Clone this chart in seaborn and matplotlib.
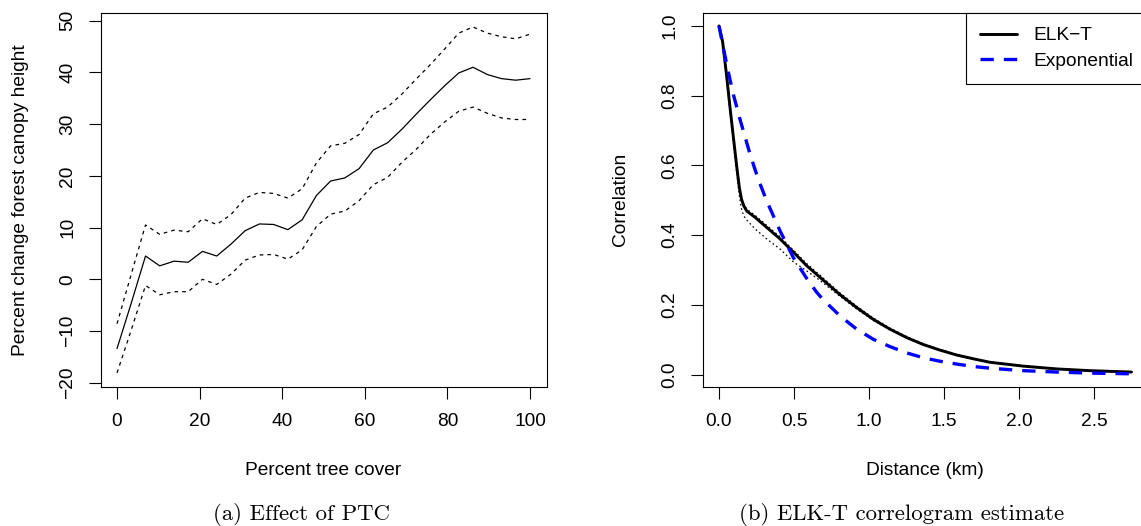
import numpy as np
import pandas as pd
import matplotlib
matplotlib.use("Agg")
import matplotlib.pyplot as plt
import seaborn as sns

# ---------------- data: panel (a) ----------------
ptc = [0, 3.45, 6.9, 10.34, 13.79, 17.24, 20.69, 24.14, 27.59, 31.03,
       34.48, 37.93, 41.38, 44.83, 48.28, 51.72, 55.17, 58.62, 62.07, 65.52,
       68.97, 72.41, 75.86, 79.31, 82.76, 86.21, 89.66, 93.1, 96.55, 100]
effect_mid = [-13.4, -4.6, 4.5, 2.6, 3.5, 3.3, 5.4, 4.5, 6.8, 9.4,
              10.7, 10.6, 9.6, 11.5, 16.2, 19.0, 19.6, 21.4, 25.0, 26.4,
              29.0, 31.9, 34.7, 37.4, 39.9, 41.0, 39.6, 38.8, 38.5, 38.8]
effect_hi = [-8.6, 1.0, 10.5, 8.7, 9.5, 9.2, 11.7, 10.6, 12.5, 15.7,
             16.8, 16.6, 15.7, 17.5, 22.5, 25.8, 26.3, 28.0, 32.0, 33.3,
             35.8, 38.7, 41.5, 44.5, 47.6, 48.8, 47.6, 46.9, 46.5, 47.4]
effect_lo = [-18.1, -9.8, -1.2, -3.0, -2.4, -2.4, 0.0, -1.0, 1.0, 3.7,
             4.7, 4.8, 3.9, 5.7, 10.2, 12.6, 13.2, 15.2, 18.3, 19.7,
             22.6, 25.1, 28.0, 30.4, 32.5, 33.3, 32.1, 31.2, 30.9, 30.9]
a_xticks = [0, 20, 40, 60, 80, 100]
a_xticklabels = ["0", "20", "40", "60", "80", "100"]
a_yticks = [-20, -10, 0, 10, 20, 30, 40, 50]
a_yticklabels = ["\u221220", "\u221210", "0", "10", "20", "30", "40", "50"]

# ---------------- data: panel (b) ----------------
elk_dist = [0, 0.024, 0.05, 0.075, 0.1, 0.12, 0.136, 0.15, 0.165, 0.185,
            0.24, 0.318, 0.407, 0.496, 0.585, 0.673, 0.807, 0.918, 1.029, 1.14,
            1.251, 1.362, 1.473, 1.584, 1.696, 1.807, 2.029, 2.251, 2.473, 2.75]
elk_corr = [1.0, 0.955, 0.86, 0.76, 0.665, 0.59, 0.535, 0.503, 0.484, 0.469,
            0.451, 0.422, 0.389, 0.351, 0.312, 0.279, 0.229, 0.192, 0.158, 0.130,
            0.106, 0.086, 0.070, 0.056, 0.045, 0.035, 0.024, 0.016, 0.011, 0.007]
elk_lo = [1.0, 0.95, 0.85, 0.748, 0.65, 0.572, 0.512, 0.475, 0.455, 0.443,
          0.418, 0.389, 0.36, 0.323, 0.297, 0.27, 0.224, 0.188, 0.155, 0.128,
          0.104, 0.085, 0.069, 0.055, 0.044, 0.034, 0.023, 0.015, 0.010, 0.006]
elk_hi = [1.0, 0.96, 0.866, 0.767, 0.672, 0.597, 0.541, 0.509, 0.489, 0.474,
          0.457, 0.428, 0.395, 0.357, 0.318, 0.285, 0.234, 0.196, 0.162, 0.133,
          0.109, 0.088, 0.072, 0.058, 0.046, 0.036, 0.025, 0.017, 0.011, 0.007]
exp_dist = [0, 0.03, 0.062, 0.096, 0.14, 0.207, 0.26, 0.318, 0.407, 0.496,
            0.584, 0.651, 0.696, 0.807, 0.918, 1.029, 1.14, 1.251, 1.362, 1.473,
            1.584, 1.696, 1.807, 2.029, 2.251, 2.473, 2.751]
exp_corr = [1.0, 0.935, 0.868, 0.803, 0.732, 0.632, 0.562, 0.498, 0.412, 0.335,
            0.276, 0.236, 0.214, 0.168, 0.13, 0.101, 0.08, 0.062, 0.048, 0.038,
            0.030, 0.023, 0.018, 0.011, 0.007, 0.004, 0.002]
b_xticks = [0.0, 0.5, 1.0, 1.5, 2.0, 2.5]
b_xticklabels = ["0.0", "0.5", "1.0", "1.5", "2.0", "2.5"]
b_yticks = [0.0, 0.2, 0.4, 0.6, 0.8, 1.0]
b_yticklabels = ["0.0", "0.2", "0.4", "0.6", "0.8", "1.0"]
legend_labels = ["ELK\u2212T", "Exponential"]

# ---------------- style ----------------
sns.set_style("white")
plt.rcParams["font.family"] = ["Liberation Sans", "DejaVu Sans"]
plt.rcParams["axes.unicode_minus"] = True
for key in ("text.color", "axes.labelcolor", "xtick.color", "ytick.color",
            "axes.edgecolor"):
    plt.rcParams[key] = "black"
FS = 13.8

W, H = 1141, 526
fig = plt.figure(figsize=(W / 100, H / 100), dpi=100)
bottom = (H - 386.7) / H
height = 374.0 / H
ax1 = fig.add_axes([100.5 / W, bottom, 446.0 / W, height])
ax2 = fig.add_axes([702.5 / W, bottom, 445.5 / W, height])

thin_dash = (0, (2.9, 3.3))

# panel (a)
sns.lineplot(x=ptc, y=effect_mid, ax=ax1, color="black", linewidth=0.9,
             errorbar=None, sort=False)
sns.lineplot(x=ptc, y=effect_hi, ax=ax1, color="black", linewidth=0.9,
             linestyle=thin_dash, errorbar=None, sort=False)
sns.lineplot(x=ptc, y=effect_lo, ax=ax1, color="black", linewidth=0.9,
             linestyle=thin_dash, errorbar=None, sort=False)
ax1.set_xlim(-4, 104)
ax1.set_ylim(-20.77, 51.55)
ax1.set_xticks(a_xticks)
ax1.set_xticklabels(a_xticklabels)
ax1.set_yticks(a_yticks)
ax1.set_yticklabels(a_yticklabels)
ax1.set_xlabel("Percent tree cover", fontsize=FS, va="center", color="black")
ax1.set_ylabel("Percent change forest canopy height", fontsize=FS, va="center",
               color="black")
ax1.xaxis.set_label_coords(0.5, -(471 - 386.7) / 374.0)
ax1.yaxis.set_label_coords((21 - 100.5) / 446.0, 0.5)

# panel (b)
sns.lineplot(x=elk_dist, y=elk_corr, ax=ax2, color="black", linewidth=2.1,
             errorbar=None, sort=False, label=legend_labels[0])
sns.lineplot(x=elk_dist, y=elk_lo, ax=ax2, color="black", linewidth=0.9,
             linestyle=(0, (1.3, 2.2)), errorbar=None, sort=False)
sns.lineplot(x=elk_dist, y=elk_hi, ax=ax2, color="black", linewidth=0.9,
             linestyle=(0, (1.3, 2.2)), errorbar=None, sort=False)
sns.lineplot(x=exp_dist, y=exp_corr, ax=ax2, color="#0000FF", linewidth=2.4,
             linestyle=(0, (4, 3)), errorbar=None, sort=False,
             label=legend_labels[1])
ax2.set_xlim(-0.11, 2.86)
ax2.set_ylim(-0.035, 1.038)
ax2.set_xticks(b_xticks)
ax2.set_xticklabels(b_xticklabels)
ax2.set_yticks(b_yticks)
ax2.set_yticklabels(b_yticklabels)
ax2.set_xlabel("Distance (km)", fontsize=FS, va="center", color="black")
ax2.set_ylabel("Correlation", fontsize=FS, va="center", color="black")
ax2.xaxis.set_label_coords(0.5, -(471 - 386.7) / 374.0)
ax2.yaxis.set_label_coords((621 - 702.5) / 445.5, 0.5)

handles, labels = ax2.get_legend_handles_labels()
leg = ax2.legend(handles, labels, loc="upper right", bbox_to_anchor=(1, 1),
                 borderaxespad=0, fancybox=False, framealpha=1,
                 edgecolor="black", fontsize=FS, handlelength=1.95,
                 handletextpad=0.85, borderpad=0.75, labelspacing=0.4)
leg.get_frame().set_linewidth(0.8)
for t in leg.get_texts():
    t.set_color("black")

for ax in (ax1, ax2):
    for sp in ax.spines.values():
        sp.set_visible(True)
        sp.set_color("black")
        sp.set_linewidth(0.8)
    ax.tick_params(axis="both", which="major", direction="out", length=8.4,
                   width=0.8, color="black", labelcolor="black", labelsize=FS,
                   pad=9, bottom=True, left=True, top=False, right=False)
    ax.tick_params(axis="x", pad=10.5)
    ax.tick_params(axis="y", labelrotation=90)
    for t in ax.get_yticklabels():
        t.set_va("center")
    ax.grid(False)

cap_fam = ["cmr10", "DejaVu Serif"]
fig.text(301 / W, 1 - 515 / H, "(a) Effect of PTC", ha="center", va="center",
         fontsize=16.4, family=cap_fam, color="black")
fig.text(902 / W, 1 - 515 / H, "(b) ELK-T correlogram estimate", ha="center",
         va="center", fontsize=16.4, family=cap_fam, color="black")

fig.savefig("out.png", dpi=100)
